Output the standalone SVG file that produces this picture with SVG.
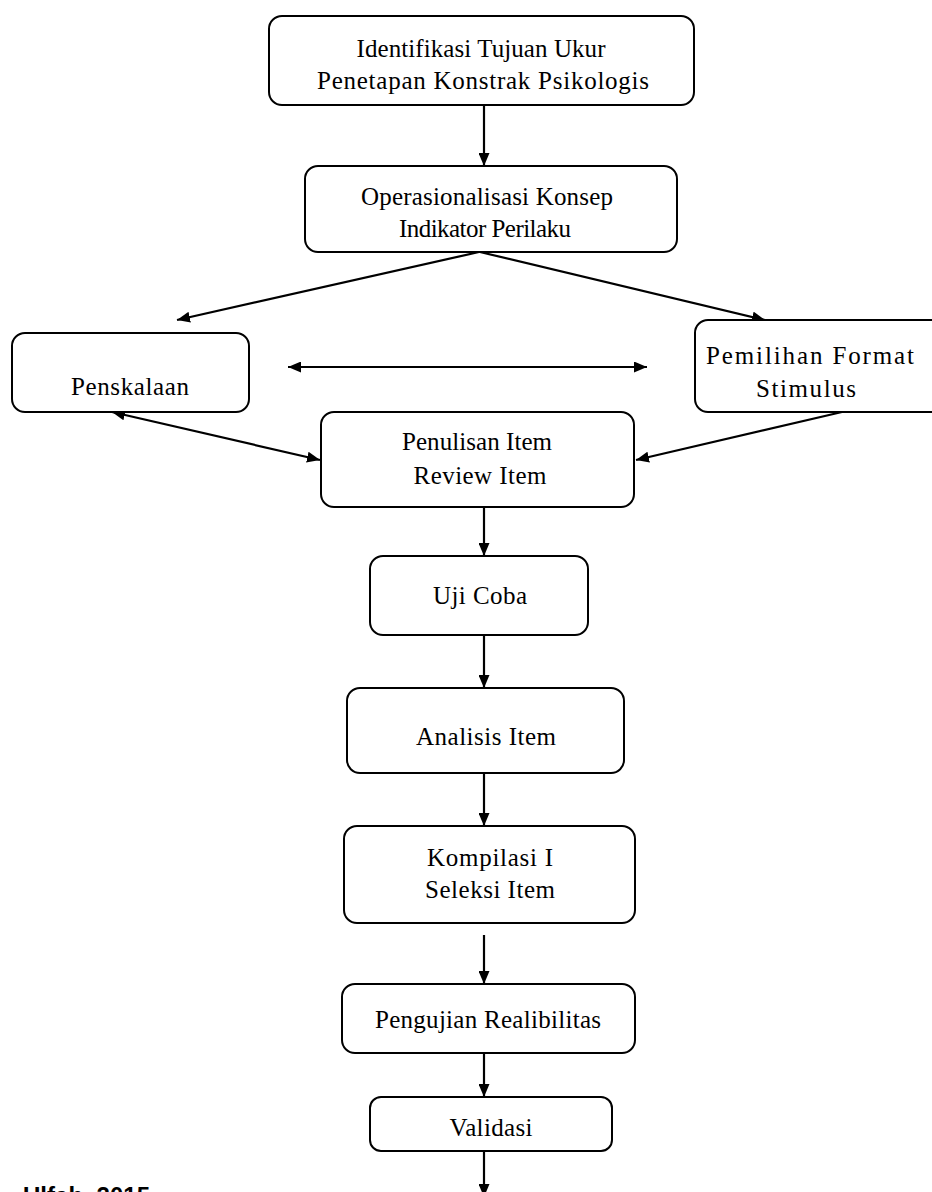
<svg xmlns="http://www.w3.org/2000/svg" width="932" height="1192" viewBox="0 0 932 1192">
<style>
.box{fill:#fff;stroke:#000;stroke-width:2}
.t{font-family:"Liberation Serif","Times New Roman",serif;font-size:25px;fill:#000;text-anchor:middle}
.c{stroke:#000;stroke-width:2.2;fill:none}
.src{font-family:"Liberation Sans",Arial,sans-serif;font-size:24px;font-weight:bold;fill:#000}
</style>
<defs>
<marker id="ah" viewBox="0 0 13 11" refX="13" refY="5.5" markerWidth="13" markerHeight="11" markerUnits="userSpaceOnUse" orient="auto-start-reverse">
<path d="M0,0 L13,5.5 L0,11 Z" fill="#000"/>
</marker>
</defs>
<rect width="932" height="1192" fill="#fff"/>
<g id="connectors">
<line class="c" x1="484" y1="105" x2="484" y2="166" marker-end="url(#ah)"/>
<line class="c" x1="479" y1="252" x2="177" y2="320" marker-end="url(#ah)"/>
<line class="c" x1="480" y1="252" x2="765" y2="320" marker-end="url(#ah)"/>
<line class="c" x1="288" y1="367" x2="647" y2="367" marker-start="url(#ah)" marker-end="url(#ah)"/>
<line class="c" x1="112" y1="412" x2="320" y2="460" marker-start="url(#ah)" marker-end="url(#ah)"/>
<line class="c" x1="842" y1="412" x2="636" y2="460" marker-end="url(#ah)"/>
<line class="c" x1="484" y1="507" x2="484" y2="556" marker-end="url(#ah)"/>
<line class="c" x1="484" y1="635" x2="484" y2="688" marker-end="url(#ah)"/>
<line class="c" x1="484" y1="773" x2="484" y2="826" marker-end="url(#ah)"/>
<line class="c" x1="484" y1="935" x2="484" y2="984" marker-end="url(#ah)"/>
<line class="c" x1="484" y1="1053" x2="484" y2="1097" marker-end="url(#ah)"/>
<line class="c" x1="484" y1="1151" x2="484" y2="1197" marker-end="url(#ah)"/>
</g>
<g id="n1"><rect class="box" x="269" y="16" width="425" height="89" rx="13"/>
<text class="t" x="481" y="57" textLength="249" lengthAdjust="spacing">Identifikasi Tujuan Ukur</text>
<text class="t" x="483" y="89" textLength="332" lengthAdjust="spacing">Penetapan Konstrak Psikologis</text></g>
<g id="n2"><rect class="box" x="305" y="166" width="372" height="86" rx="13"/>
<text class="t" x="487" y="205" textLength="252" lengthAdjust="spacing">Operasionalisasi Konsep</text>
<text class="t" x="485" y="237" textLength="172" lengthAdjust="spacing">Indikator Perilaku</text></g>
<g id="n3"><rect class="box" x="12" y="333" width="237" height="79" rx="13"/>
<text class="t" x="130" y="395" textLength="118" lengthAdjust="spacing">Penskalaan</text></g>
<g id="n4"><rect class="box" x="695" y="320" width="250" height="92" rx="13"/>
<text class="t" x="810" y="364" textLength="208" lengthAdjust="spacing">Pemilihan Format</text>
<text class="t" x="806" y="397" textLength="100" lengthAdjust="spacing">Stimulus</text></g>
<g id="n5"><rect class="box" x="321" y="412" width="313" height="95" rx="13"/>
<text class="t" x="477" y="450" textLength="150" lengthAdjust="spacing">Penulisan Item</text>
<text class="t" x="480" y="484" textLength="133" lengthAdjust="spacing">Review Item</text></g>
<g id="n6"><rect class="box" x="370" y="556" width="218" height="79" rx="13"/>
<text class="t" x="480" y="604" textLength="94" lengthAdjust="spacing">Uji Coba</text></g>
<g id="n7"><rect class="box" x="347" y="688" width="277" height="85" rx="13"/>
<text class="t" x="486" y="745" textLength="140" lengthAdjust="spacing">Analisis Item</text></g>
<g id="n8"><rect class="box" x="344" y="826" width="291" height="97" rx="13"/>
<text class="t" x="490" y="866" textLength="126" lengthAdjust="spacing">Kompilasi I</text>
<text class="t" x="490" y="898" textLength="130" lengthAdjust="spacing">Seleksi Item</text></g>
<g id="n9"><rect class="box" x="342" y="984" width="293" height="69" rx="13"/>
<text class="t" x="488" y="1028" textLength="226" lengthAdjust="spacing">Pengujian Realibilitas</text></g>
<g id="n10"><rect class="box" x="370" y="1097" width="242" height="54" rx="11"/>
<text class="t" x="491" y="1136" textLength="83" lengthAdjust="spacing">Validasi</text></g>
<text class="src" x="23" y="1204" textLength="127" lengthAdjust="spacing">Ulfah, 2015</text>
</svg>
